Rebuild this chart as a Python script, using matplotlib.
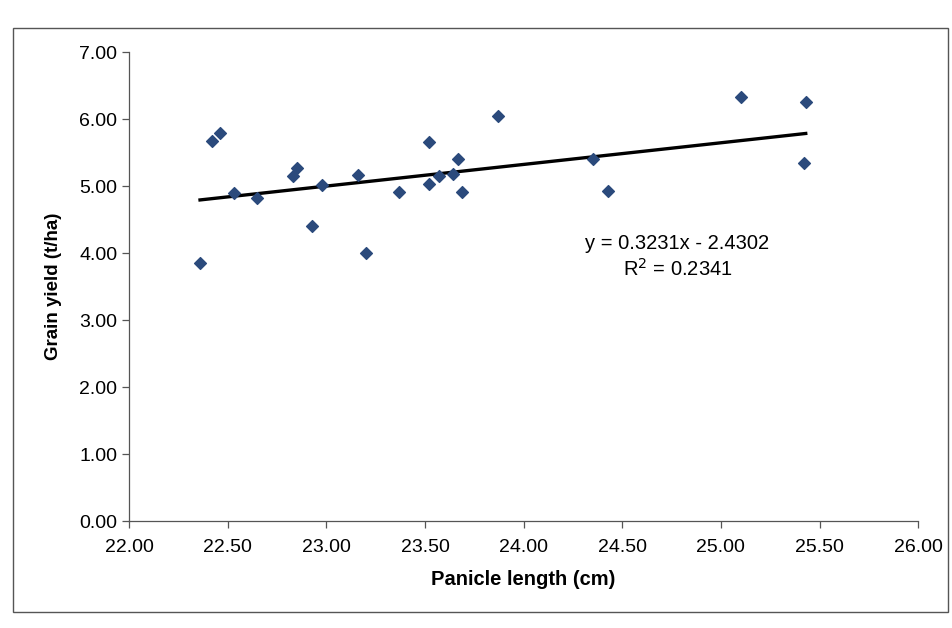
import numpy as np
import matplotlib.pyplot as plt
from matplotlib.patches import Rectangle

############################
# DATA
############################

panicle_cm = [22.36, 22.42, 22.46, 22.53, 22.65, 22.83, 22.85, 22.93,
              22.98, 23.16, 23.20, 23.37, 23.52, 23.52, 23.57, 23.64,
              23.67, 23.69, 23.87, 24.35, 24.43, 25.10, 25.43, 25.42]
yield_tha  = [3.85, 5.68, 5.80, 4.90, 4.82, 5.15, 5.27, 4.41,
              5.01, 5.17, 4.01, 4.92, 5.66, 5.03, 5.15, 5.18,
              5.40, 4.92, 6.04, 5.41, 4.93, 6.33, 6.25, 5.34]

# linear trendline as printed on the chart
slope     = 0.3231
intercept = -2.4302
r_squared = 0.2341

x_ticks = [22.0, 22.5, 23.0, 23.5, 24.0, 24.5, 25.0, 25.5, 26.0]
y_ticks = [0, 1, 2, 3, 4, 5, 6, 7]

############################
# PLOT
############################

plt.rcParams["font.family"] = ["Liberation Sans", "DejaVu Sans"]

fig = plt.figure(figsize=(9.52, 6.28), dpi=100)
ax = fig.add_axes([0.1355, 0.170, 0.829, 0.747])

# outer chart frame
fig.patches.append(Rectangle((0.014, 0.025), 0.982, 0.93, transform=fig.transFigure,
                             fill=False, edgecolor="#555555", linewidth=1.0))

ax.scatter(panicle_cm, yield_tha, marker="D", s=36, color="#2B4A7C",
           edgecolors="#2B4A7C", zorder=3)

x_fit = np.array([min(panicle_cm), max(panicle_cm)])
ax.plot(x_fit, slope * x_fit + intercept, color="black", linewidth=2.4, zorder=2)

ax.text(24.78, 4.15, f"y = {slope:.4f}x - {abs(intercept):.4f}",
        ha="center", va="center", fontsize=14.5)
ax.text(24.78, 3.76, f"R$^2$ = {r_squared:.4f}",
        ha="center", va="center", fontsize=14.5)

ax.set_xlim(22, 26)
ax.set_ylim(0, 7)
ax.set_xticks(x_ticks)
ax.set_yticks(y_ticks)
ax.set_xticklabels([f"{v:.2f}" for v in x_ticks])
ax.set_yticklabels([f"{v:.2f}" for v in y_ticks])
ax.tick_params(labelsize=14, length=5, color="#555555", width=0.9)
ax.tick_params(axis="x", pad=8)

for side in ["top", "right"]:
    ax.spines[side].set_visible(False)
for side in ["left", "bottom"]:
    ax.spines[side].set_color("#555555")
    ax.spines[side].set_linewidth(0.9)

ax.set_xlabel("Panicle length (cm)", fontsize=14.5, fontweight="bold", labelpad=10)
ax.set_ylabel("Grain yield (t/ha)", fontsize=13.5, fontweight="bold", labelpad=12)

fig.savefig("out.png", dpi=100)
